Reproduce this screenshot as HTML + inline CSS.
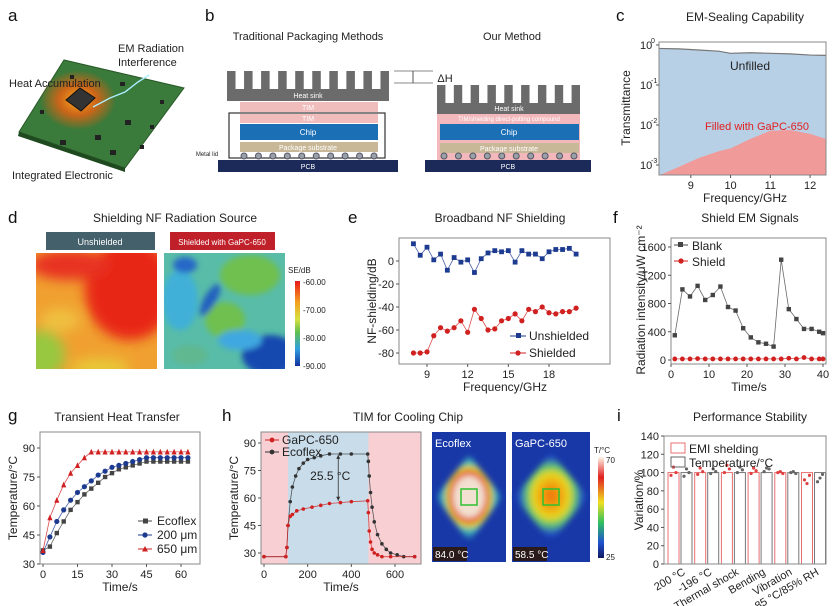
<!DOCTYPE html>
<html><head><meta charset="utf-8">
<style>
html,body{margin:0;padding:0;background:#fff;}
svg{display:block;font-family:"Liberation Sans Narrow","Liberation Sans",sans-serif;}
.t{font-size:12px;fill:#222;}
.lab{font-size:17px;fill:#111;font-family:"Liberation Sans",sans-serif;}
.tk{font-size:11px;fill:#222;}
</style></head><body>
<svg id="fig" width="832" height="606" viewBox="0 0 832 606">
<defs>
<radialGradient id="glow" cx="0.5" cy="0.5" r="0.5"><stop offset="0" stop-color="#ffb020"/><stop offset="0.5" stop-color="#f06010" stop-opacity="0.8"/><stop offset="1" stop-color="#f06010" stop-opacity="0"/></radialGradient>
<filter id="blur" x="-20%" y="-20%" width="140%" height="140%"><feGaussianBlur stdDeviation="6"/></filter>
<filter id="blur2"><feGaussianBlur stdDeviation="3"/></filter>
<clipPath id="cl1"><rect x="36" y="253" width="121" height="116"/></clipPath>
<clipPath id="cl2"><rect x="164" y="253" width="121" height="116"/></clipPath>
<linearGradient id="cb" x1="0" y1="0" x2="0" y2="1"><stop offset="0" stop-color="#e81818"/><stop offset="0.25" stop-color="#f4a020"/><stop offset="0.45" stop-color="#d8e040"/><stop offset="0.6" stop-color="#60c050"/><stop offset="0.8" stop-color="#30a0e0"/><stop offset="1" stop-color="#1030a0"/></linearGradient>
<linearGradient id="cb2" x1="0" y1="0" x2="0" y2="1"><stop offset="0" stop-color="#fff4e8"/><stop offset="0.2" stop-color="#e02020"/><stop offset="0.45" stop-color="#f0e020"/><stop offset="0.65" stop-color="#30c060"/><stop offset="0.85" stop-color="#2050d0"/><stop offset="1" stop-color="#101860"/></linearGradient>
<radialGradient id="th1" cx="0.5" cy="0.48" r="0.5"><stop offset="0" stop-color="#f2e0d0"/><stop offset="0.45" stop-color="#f2e0d0"/><stop offset="0.55" stop-color="#e04020"/><stop offset="0.65" stop-color="#f0d020"/><stop offset="0.78" stop-color="#40c0c0"/><stop offset="1" stop-color="#1838a8"/></radialGradient>
<radialGradient id="th2" cx="0.5" cy="0.48" r="0.5"><stop offset="0" stop-color="#f07010"/><stop offset="0.25" stop-color="#f0a010"/><stop offset="0.5" stop-color="#e8d820"/><stop offset="0.65" stop-color="#60c870"/><stop offset="0.85" stop-color="#2050c8"/><stop offset="1" stop-color="#1830a0"/></radialGradient>
</defs>

<!-- panel a -->
<g>
<text x="8" y="21" class="lab">a</text>
<polygon points="19,132 64,60 184,88 125,168" fill="#3a7a3a" stroke="#2a5a2a"/>
<polygon points="19,132 125,168 125,172 18,136" fill="#1f4a1f"/>
<ellipse cx="78" cy="100" rx="38" ry="30" fill="url(#glow)"/>
<polygon points="66,100 80,88 95,98 81,111" fill="#333" stroke="#111"/>
<g fill="#222"><rect x="60" y="140" width="6" height="5"/><rect x="110" y="150" width="6" height="5"/><rect x="125" y="120" width="6" height="5"/><rect x="40" y="110" width="4" height="4"/><rect x="120" y="82" width="5" height="4"/><rect x="95" y="135" width="6" height="5"/><rect x="150" y="125" width="4" height="4"/><rect x="70" y="75" width="4" height="4"/><rect x="160" y="100" width="4" height="4"/><rect x="140" y="145" width="4" height="4"/></g>
<path d="M93,107 L110,98 L125,92 L138,82 L149,75" stroke="#aef" stroke-width="1.4" fill="none"/>
<text x="118" y="52" font-size="11" fill="#222">EM Radiation</text>
<text x="118" y="66" font-size="11" fill="#222">Interference</text>
<text x="9" y="87" font-size="11" fill="#222">Heat Accumulation</text>
<text x="12" y="179" font-size="11" fill="#222">Integrated Electronic</text>
</g>

<!-- panel b -->
<g font-size="7" text-anchor="middle">
<text x="205" y="21" class="lab" text-anchor="start">b</text>
<text x="308" y="40" font-size="11" fill="#222">Traditional Packaging Methods</text>
<text x="512" y="40" font-size="11" fill="#222">Our Method</text>
<g id="hs1"></g>
<rect x="227" y="89" width="162" height="12" fill="#6b6b6b"/>
<text x="308" y="98" fill="#fff">Heat sink</text>
<rect x="240" y="102" width="138" height="10" fill="#f0bcbc"/>
<text x="308" y="110" fill="#fff">TIM</text>
<rect x="229" y="113" width="156" height="45" fill="none" stroke="#333" stroke-width="1.2"/>
<rect x="240" y="114" width="138" height="9" fill="#f0bcbc"/>
<text x="308" y="121" fill="#fff">TIM</text>
<rect x="240" y="124" width="138" height="16" fill="#1a6fb5"/>
<text x="308" y="135" fill="#fff" font-size="8">Chip</text>
<rect x="240" y="142" width="138" height="10" fill="#c8b898"/>
<text x="308" y="150" fill="#fff">Package substrate</text>
<text x="207" y="156" font-size="6" fill="#222">Metal lid</text>
<g id="balls1"></g>
<rect x="218" y="160" width="180" height="12" fill="#1c2a5a"/>
<text x="308" y="169" fill="#fff">PCB</text>
<line x1="394" y1="71" x2="433" y2="71" stroke="#888"/><line x1="394" y1="83" x2="433" y2="83" stroke="#888"/><line x1="413" y1="71" x2="413" y2="83" stroke="#555"/>
<text x="445" y="82" font-size="11" fill="#222">ΔH</text>
<g id="hs2"></g>
<rect x="437" y="103" width="143" height="11" fill="#6b6b6b"/>
<text x="509" y="111" fill="#fff">Heat sink</text>
<rect x="437" y="114" width="143" height="46" fill="#f3b8bc"/>
<text x="509" y="121" fill="#fff" font-size="6">TIM/shielding direct-potting compound</text>
<rect x="440" y="124" width="139" height="16" fill="#1a6fb5"/>
<text x="509" y="135" fill="#fff" font-size="8">Chip</text>
<rect x="440" y="143" width="139" height="10" fill="#c8b898"/>
<text x="509" y="151" fill="#fff">Package substrate</text>
<g id="balls2"></g>
<rect x="425" y="160" width="166" height="12" fill="#1c2a5a"/>
<text x="508" y="169" fill="#fff">PCB</text>
</g>

<!-- panel d -->
<g>
<text x="8" y="223" class="lab">d</text>
<text x="175" y="222" class="t" text-anchor="middle">Shielding NF Radiation Source</text>
<rect x="46" y="232" width="109" height="18" fill="#44606a"/>
<text x="100" y="245" font-size="9" fill="#fff" text-anchor="middle">Unshielded</text>
<rect x="170" y="232" width="105" height="18" fill="#c0202a"/>
<text x="222" y="245" font-size="8" fill="#fff" text-anchor="middle">Shielded with GaPC-650</text>
<g clip-path="url(#cl1)">
<rect x="36" y="253" width="121" height="116" fill="#f0a030"/>
<g filter="url(#blur)"><ellipse cx="130" cy="290" rx="45" ry="50" fill="#e82818"/><ellipse cx="70" cy="265" rx="40" ry="15" fill="#e83020"/><ellipse cx="40" cy="355" rx="25" ry="25" fill="#98c840"/><ellipse cx="100" cy="368" rx="30" ry="10" fill="#e8c838"/><ellipse cx="60" cy="320" rx="20" ry="12" fill="#f0c040"/></g>
</g>
<g clip-path="url(#cl2)">
<rect x="164" y="253" width="121" height="116" fill="#58bca8"/>
<g filter="url(#blur2)"><ellipse cx="250" cy="275" rx="30" ry="20" fill="#70c050"/><ellipse cx="180" cy="300" rx="18" ry="30" fill="#40b0d8"/><ellipse cx="225" cy="320" rx="20" ry="18" fill="#70c050"/><ellipse cx="270" cy="355" rx="28" ry="20" fill="#1848b0"/><ellipse cx="210" cy="300" rx="6" ry="18" fill="#2060c0" transform="rotate(30 210 300)"/><ellipse cx="240" cy="340" rx="22" ry="10" fill="#40a8e0"/><ellipse cx="190" cy="355" rx="18" ry="10" fill="#60b890"/><ellipse cx="185" cy="265" rx="12" ry="8" fill="#2868c8"/></g>
</g>
<rect x="295" y="281" width="5" height="85" fill="url(#cb)"/>
<text x="288" y="273" font-size="8" fill="#222">SE/dB</text>
<g font-size="8" fill="#222"><text x="303" y="285">-60.00</text><text x="303" y="313">-70.00</text><text x="303" y="341">-80.00</text><text x="303" y="369">-90.00</text></g>
</g>

<!-- panel h thermal images -->
<g>
<rect x="432" y="432" width="74" height="130" fill="#1838a8"/>
<polygon points="469,455 502,497 469,542 436,497" fill="url(#th1)" filter="url(#blur2)"/>
<rect x="461" y="489" width="16" height="16" fill="none" stroke="#30c030" stroke-width="1.5"/>
<rect x="433" y="547" width="34" height="14" fill="#2a1a1a"/>
<text x="435" y="558" font-size="10" fill="#fff">84.0 °C</text>
<text x="435" y="447" font-size="11" fill="#fff">Ecoflex</text>
<rect x="512" y="432" width="78" height="130" fill="#1838a8"/>
<polygon points="551,453 588,497 551,542 514,497" fill="url(#th2)" filter="url(#blur2)"/>
<rect x="543" y="489" width="16" height="16" fill="none" stroke="#30c030" stroke-width="1.5"/>
<rect x="513" y="547" width="34" height="14" fill="#2a1a1a"/>
<text x="515" y="558" font-size="10" fill="#fff">58.5 °C</text>
<text x="515" y="447" font-size="11" fill="#fff">GaPC-650</text>
<rect x="598" y="457" width="6" height="101" fill="url(#cb2)"/>
<text x="594" y="453" font-size="8" fill="#222">T/°C</text>
<text x="606" y="463" font-size="8" fill="#222">70</text><text x="606" y="560" font-size="8" fill="#222">25</text>
</g>
<g id="charts"></g>
</svg>
<script>
const NS='http://www.w3.org/2000/svg';
const root=document.getElementById('charts');
function mk(tag,attrs,parent){const e=document.createElementNS(NS,tag);for(const k in attrs)e.setAttribute(k,attrs[k]);(parent||root).appendChild(e);return e;}
function txt(x,y,s,attrs,parent){const e=mk('text',Object.assign({x:x,y:y},attrs||{}),parent);e.textContent=s;return e;}
function lin(d0,d1,r0,r1){return v=>r0+(v-d0)/(d1-d0)*(r1-r0);}

function heatsink(g,x0,x1,top,bot,n){const w=(x1-x0)/(2*n-1);for(let i=0;i<n;i++)mk('rect',{x:x0+i*2*w,y:top,width:w,height:bot-top+1,fill:'#6b6b6b'},document.getElementById(g));}
heatsink('hs1',227,389,71,89,10);heatsink('hs2',437,580,85,103,9);
function balls(g,x0,x1,y,n){for(let i=0;i<n;i++){mk('circle',{cx:x0+i*(x1-x0)/(n-1),cy:y,r:3,fill:'#9aa0a8',stroke:'#556'},document.getElementById(g));}}
balls('balls1',244,374,156,10);balls('balls2',444,574,156,10);

/* ===== panel c data ===== */
const cFreq=[8.2,8.7,9.2,9.7,10,10.5,11,11.5,12,12.4];
const cUnfilled=[0.82,0.8,0.75,0.7,0.62,0.64,0.62,0.6,0.56,0.55];
const cFilled=[0.00055,0.0009,0.0015,0.0022,0.0026,0.0045,0.0072,0.0075,0.006,0.0045];
const cYTicks=[0,-1,-2,-3];
const cXTicks=[9,10,11,12];
/* ===== panel e data ===== */
const eFreq=[8,8.5,9,9.5,10,10.5,11,11.5,12,12.5,13,13.5,14,14.5,15,15.5,16,16.5,17,17.5,18,18.5,19,19.5,20];
const eUnshielded=[15,5,12,1,6,-8,3,-1,1,-10,2,7,9,8,9,-1,9,6,6,2,8,10,10,11,6];
const eShielded=[-80,-80,-79,-65,-58,-61,-58,-52,-62,-42,-50,-60,-59,-52,-50,-46,-52,-42,-44,-40,-45,-46,-44,-44,-41];
const eYTicks=[0,-20,-40,-60,-80];
const eXTicks=[9,12,15,18];
/* ===== panel f data ===== */
const fTime=[1,3,5,7,9,11,13,15,17,19,21,23,25,27,29,31,33,35,37,39,40];
const fBlank=[350,1000,900,1050,850,920,1040,750,700,450,320,250,230,190,1420,720,580,440,440,400,380];
const fShield=[15,15,15,20,15,15,15,15,15,15,15,15,15,15,15,25,15,35,15,15,15];
const fYTicks=[0,400,800,1200,1600];
const fXTicks=[0,10,20,30,40];
/* ===== panel g data ===== */
const gTime=[0,3,6,9,12,15,18,21,24,27,30,33,36,39,42,45,48,51,54,57,60,63];
const gEcoflex=[37,39,46,52,58,62,66,69,72,75,77,79,80,81,82,83,83,83,83,83,83,83];
const g200=[36,44,52,58,63,67,70,73,76,78,80,81,82,83,84,85,85,85,85,85,85,85];
const g650=[37,54,63,71,77,81,85,88,88,88,88,88,88,88,88,88,88,88,88,88,88,88];
const gYTicks=[30,45,60,75,90];
const gXTicks=[0,15,30,45,60];
/* ===== panel h data ===== */
const hTimeEco=[0,100,105,110,120,130,145,160,180,200,230,260,300,350,400,475,478,482,488,495,505,520,540,560,580,610,640,690];
const hEco=[28,28,33,45,58,66,72,76,79,81,82,83,84,84,84,84,80,72,63,55,47,40,35,32,30,29,28,28];
const hTimeGa=[0,100,105,110,120,130,150,180,220,260,300,350,400,475,478,482,488,495,505,520,540,580,690];
const hGa=[28,28,33,45,50,51,53,54,55,56,57,57.5,58,58.5,52,42,36,32,30,29,28,28,28];
const hYTicks=[30,45,60,75,90];
const hXTicks=[0,200,400,600];
/* ===== panel i data ===== */
const iCats=['200 °C','-196 °C','Thermal shock','Bending','Vibration','85 °C/85% RH'];
const iEMI=[100,100,100,100,100,100];
const iTemp=[100,100,100,100,100,100];
const iEMIpts=[[97,106,100],[98,105,101],[100,108,104],[99,105,102],[100,101,99],[92,88,97]];
const iTempPts=[[96,104,100],[99,104,101],[100,106,103],[101,105,104],[100,101,99],[90,94,98]];
const iYTicks=[0,20,40,60,80,100,120,140];

function frame(x0,y0,x1,y1,name){const r=mk('rect',{x:x0,y:y0,width:x1-x0,height:y1-y0,fill:'none',stroke:'#888','stroke-width':1});

return r;}
function yticks(ticks,sy,x0,fmt){ticks.forEach(t=>{const y=sy(t);mk('line',{x1:x0-3,y1:y,x2:x0,y2:y,stroke:'#555'});const e=txt(x0-5,y+4,fmt?fmt(t):String(t),{'text-anchor':'end',class:'tk'});

});}
function xticks(ticks,sx,y0){ticks.forEach(t=>{const x=sx(t);mk('line',{x1:x,y1:y0,x2:x,y2:y0+3,stroke:'#555'});const e=txt(x,y0+14,String(t),{'text-anchor':'middle',class:'tk'});

});}
function title(x,y,s,name){const e=txt(x,y,s,{'text-anchor':'middle',class:'t'});

}
function label(x,y,s,name){const e=txt(x,y,s,{class:'lab'});

}
function ytitle(x,y,s,name){const e=txt(x,y,s,{'text-anchor':'middle',class:'t',transform:`rotate(-90 ${x} ${y})`});

}
function series(xs,ys,sx,sy,color,shape,name,r){const p=xs.map((x,i)=>`${sx(x).toFixed(1)},${sy(ys[i]).toFixed(1)}`).join(' ');
const l=mk('polyline',{points:p,fill:'none',stroke:color,'stroke-width':0.8,opacity:0.8});


xs.forEach((x,i)=>{const cx=sx(x),cy=sy(ys[i]);let m;r=r||2.5;
if(shape==='sq')m=mk('rect',{x:cx-r,y:cy-r,width:2*r,height:2*r,fill:color});
else if(shape==='tri')m=mk('polygon',{points:`${cx},${cy-r-0.5} ${cx-r},${cy+r} ${cx+r},${cy+r}`,fill:color});
else m=mk('circle',{cx:cx,cy:cy,r:r,fill:color});

});}

/* panel c */
label(616,21,'c','panel-label-c');title(745,21,'EM-Sealing Capability','title-c');
{const sx=lin(8.2,12.4,659,826),sy=v=>lin(0,-3,45,165)(Math.log10(v));
const bot=175;
const a1=mk('polygon',{points:`${sx(cFreq[0])},${bot} `+cFreq.map((f,i)=>`${sx(f)},${sy(cUnfilled[i])}`).join(' ')+` ${sx(cFreq[cFreq.length-1])},${bot}`,fill:'#b8d0e6'});


const l1=mk('polyline',{points:cFreq.map((f,i)=>`${sx(f)},${sy(cUnfilled[i])}`).join(' '),fill:'none',stroke:'#777','stroke-width':1.2});


const a2=mk('polygon',{points:`${sx(cFreq[0])},${bot} `+cFreq.map((f,i)=>`${sx(f)},${sy(cFilled[i])}`).join(' ')+` ${sx(cFreq[cFreq.length-1])},${bot}`,fill:'#f09a9a'});


frame(659,42,826,175,'plot-frame-c');
cYTicks.forEach(t=>{const y=sy(Math.pow(10,t));mk('line',{x1:656,y1:y,x2:659,y2:y,stroke:'#555'});const e=txt(640,y+4,'10',{class:'tk'});


txt(651,y-2,String(t),{'font-size':7,fill:'#222'});});
xticks(cXTicks,sx,175);
const u=txt(730,70,'Unfilled',{class:'t',fill:'#444'});


const f=txt(705,130,'Filled with GaPC-650',{'font-size':11,fill:'#e02020'});


ytitle(630,108,'Transmittance','y-axis-title-c');
const xt=txt(745,202,'Frequency/GHz',{'text-anchor':'middle',class:'t'});

}

/* panel e */
label(348,223,'e','panel-label-e');title(500,222,'Broadband NF Shielding','title-e');
{const sx=lin(9,18,427,549),sy=lin(0,-80,261,353);
frame(399,238,610,364,'plot-frame-e');
series(eFreq,eUnshielded,sx,sy,'#1c3a90','sq','unshielded',2.4);
series(eFreq,eShielded,sx,sy,'#d02020','c','shielded',2.6);
yticks(eYTicks,sy,399);xticks(eXTicks,sx,364);
ytitle(376,301,'NF-shielding/dB','y-axis-title-e');
const xt=txt(505,391,'Frequency/GHz',{'text-anchor':'middle',class:'t'});


mk('line',{x1:510,y1:336,x2:526,y2:336,stroke:'#1c3a90'});mk('rect',{x:516,y:333,width:5,height:5,fill:'#1c3a90'});
const l1=txt(529,340,'Unshielded',{class:'t','font-size':12});


mk('line',{x1:510,y1:353,x2:526,y2:353,stroke:'#d02020'});mk('circle',{cx:518,cy:353,r:2.6,fill:'#d02020'});
const l2=txt(529,357,'Shielded',{class:'t','font-size':12});

}

/* panel f */
label(613,223,'f','panel-label-f');title(750,222,'Shield EM Signals','title-f');
{const sx=lin(0,40,671,823),sy=lin(0,1600,360,247);
frame(671,238,826,364,'plot-frame-f');
series(fTime,fBlank,sx,sy,'#444','sq','blank',2.2);
series(fTime,fShield,sx,sy,'#d02020','c','shield',2.4);
yticks(fYTicks,sy,671);xticks(fXTicks,sx,364);
ytitle(645,300,'Radiation intensity/μW cm⁻²','y-axis-title-f');
const xt=txt(749,391,'Time/s',{'text-anchor':'middle',class:'t'});


mk('line',{x1:674,y1:245,x2:688,y2:245,stroke:'#444'});mk('rect',{x:678,y:242,width:5,height:5,fill:'#444'});
const l1=txt(692,250,'Blank',{class:'t','font-size':12});


mk('line',{x1:674,y1:261,x2:688,y2:261,stroke:'#d02020'});mk('circle',{cx:681,cy:261,r:2.6,fill:'#d02020'});
const l2=txt(692,266,'Shield',{class:'t','font-size':12});

}

/* panel g */
label(8,421,'g','panel-label-g');title(117,421,'Transient Heat Transfer','title-g');
{const sx=lin(0,60,43,181),sy=lin(30,90,564,448);
frame(40,432,200,564,'plot-frame-g');
series(gTime,gEcoflex,sx,sy,'#444','sq','ecoflex',2.2);
series(gTime,g200,sx,sy,'#1c3a90','c','200um',2.6);
series(gTime,g650,sx,sy,'#d02020','tri','650um',2.6);
yticks(gYTicks,sy,40);xticks(gXTicks,sx,564);
ytitle(17,498,'Temperature/°C','y-axis-title-g');
const xt=txt(120,591,'Time/s',{'text-anchor':'middle',class:'t'});


[['Ecoflex','#444','sq',521],['200 μm','#1c3a90','c',535],['650 μm','#d02020','tri',549]].forEach(([n,c,s,y])=>{
mk('line',{x1:138,y1:y,x2:152,y2:y,stroke:c});
if(s==='sq')mk('rect',{x:143,y:y-2.5,width:5,height:5,fill:c});else if(s==='c')mk('circle',{cx:145,cy:y,r:2.6,fill:c});else mk('polygon',{points:`145,${y-3} 142,${y+2.5} 148,${y+2.5}`,fill:c});
const e=txt(157,y+4,n,{class:'t','font-size':11});

});}

/* panel h */
label(222,421,'h','panel-label-h');title(408,421,'TIM for Cooling Chip','title-h');
{const sx=lin(0,600,264,395),sy=lin(30,90,553,443);
const bg1=mk('rect',{x:261,y:432,width:160,height:132,fill:'#f8d0d4'});


const bg2=mk('rect',{x:sx(110),y:432,width:sx(478)-sx(110),height:132,fill:'#c8dcea'});


frame(261,432,421,564,'plot-frame-h');
series(hTimeEco,hEco,sx,sy,'#333','c','ecoflex-h',1.8);
series(hTimeGa,hGa,sx,sy,'#d02020','c','gapc-h',1.8);
const ax=sx(340);mk('line',{x1:ax,y1:sy(83.5),x2:ax,y2:sy(58.5),stroke:'#333','stroke-width':0.8});
mk('polygon',{points:`${ax},${sy(83.5)} ${ax-2},${sy(83.5)+4} ${ax+2},${sy(83.5)+4}`,fill:'#333'});
mk('polygon',{points:`${ax},${sy(58.5)} ${ax-2},${sy(58.5)-4} ${ax+2},${sy(58.5)-4}`,fill:'#333'});
const an=txt(ax-8,sy(72)+4,'25.5 °C',{class:'t','font-size':11,'text-anchor':'middle'});


yticks(hYTicks,sy,261);xticks(hXTicks,sx,564);
ytitle(238,498,'Temperature/°C','y-axis-title-h');
const xt=txt(341,591,'Time/s',{'text-anchor':'middle',class:'t'});


mk('line',{x1:265,y1:440,x2:279,y2:440,stroke:'#d02020'});mk('circle',{cx:272,cy:440,r:2.4,fill:'#d02020'});
const l1=txt(282,444,'GaPC-650',{class:'t','font-size':10});


mk('line',{x1:265,y1:452,x2:279,y2:452,stroke:'#333'});mk('circle',{cx:272,cy:452,r:2.4,fill:'#333'});
const l2=txt(282,456,'Ecoflex',{class:'t','font-size':10});

}

/* panel i */
label(617,421,'i','panel-label-i');title(750,421,'Performance Stability','title-i');
{const sy=lin(0,140,564,436),gw=26.7,x0=668;
iCats.forEach((c,i)=>{const gx=x0+i*gw;
const b1=mk('rect',{x:gx,y:sy(iEMI[i]),width:11,height:564-sy(iEMI[i]),fill:'none',stroke:'#e87070'});


const b2=mk('rect',{x:gx+13,y:sy(iTemp[i]),width:11,height:564-sy(iTemp[i]),fill:'none',stroke:'#777'});


iEMIpts[i].forEach((v,j)=>{const p=mk('circle',{cx:gx+3+j*2.5,cy:sy(v),r:1.6,fill:'#e04040'});

});
iTempPts[i].forEach((v,j)=>{const p=mk('circle',{cx:gx+16+j*2.5,cy:sy(v),r:1.6,fill:'#666'});

});
const t=txt(gx+18,574,c,{'text-anchor':'end',class:'tk','font-size':10,transform:`rotate(-30 ${gx+18} 574)`});

});
frame(664,436,826,564,'plot-frame-i');
yticks(iYTicks,sy,664);
ytitle(643,500,'Variation/%','y-axis-title-i');
mk('rect',{x:671,y:443,width:14,height:10,fill:'none',stroke:'#e87070'});
const l1=txt(689,453,'EMI shelding',{class:'t','font-size':12});


mk('rect',{x:671,y:457,width:14,height:10,fill:'none',stroke:'#666'});
const l2=txt(689,467,'Temperature/°C',{class:'t','font-size':12});

}
</script>
</body></html>
